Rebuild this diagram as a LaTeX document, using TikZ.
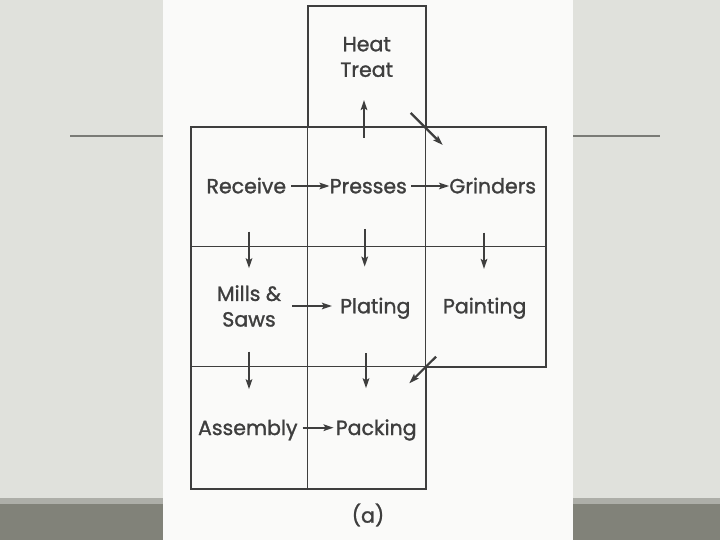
\documentclass[tikz,border=0pt]{standalone}
\usepackage{fontspec}
\setmainfont{Poppins}
\newfontfamily\lblfont[RawFeature={embolden=1.3}]{Poppins}
\usetikzlibrary{arrows.meta}
\definecolor{bgc}{HTML}{E0E1DC}
\definecolor{stripc}{HTML}{ADAEA8}
\definecolor{bandc}{HTML}{818279}
\definecolor{paperc}{HTML}{FAFAF9}
\definecolor{inkc}{HTML}{3E3E3E}
\definecolor{rulec}{HTML}{7A7B76}
\tikzset{
  lbl/.style={inner sep=0pt, text=inkc, font=\lblfont\fontsize{20.5}{25.6}\selectfont, align=center},
  outer/.style={draw=inkc, line width=2pt},
  inner/.style={draw=inkc, line width=1.5pt},
  flow/.style={draw=inkc, line width=2.2pt, -{Stealth[length=10pt,width=6.5pt,inset=2pt]}},
}
\begin{document}
\begin{tikzpicture}[x=1pt,y=-1pt]
\useasboundingbox (0,0) rectangle (720,540);
% slide background
\fill[bgc] (0,0) rectangle (720,540);
\fill[stripc] (0,498) rectangle (720,504);
\fill[bandc] (0,504) rectangle (720,540);
\draw[rulec, line width=1.2pt] (70,136) -- (660,136);
% scanned page
\fill[paperc] (163,0) rectangle (573,540);
% grid
\draw[inner] (190.7,246.7) -- (545.7,246.7);
\draw[inner] (190.7,366.7) -- (545.7,366.7);
\draw[inner] (307.5,6) -- (307.5,489);
\draw[inner] (425.7,126.7) -- (425.7,489);
\draw[outer] (307.5,126.7) -- (307.5,6) -- (425.7,6) -- (425.7,126.7);
\draw[outer] (190.7,126.7) -- (545.7,126.7) -- (545.7,366.7) -- (425.7,366.7) -- (425.7,489) -- (190.7,489) -- cycle;
% labels
\node[lbl] (heat) at (366.7,57) {Heat\\Treat};
\node[lbl, anchor=base] (rec) at (246.3,193.3) {Receive};
\node[lbl, anchor=base] (pre) at (368.3,193.3) {Presses};
\node[lbl, anchor=base] (gri) at (492.7,193.3) {Grinders};
\node[lbl] (mil) at (249,306) {Mills \&\\Saws};
\node[lbl, anchor=base] (pla) at (375.3,313.3) {Plating};
\node[lbl, anchor=base] (pai) at (484.7,313.3) {Painting};
\node[lbl, anchor=base] (ass) at (247.8,435) {Assembly};
\node[lbl, anchor=base] (pac) at (376.2,435) {Packing};
\node[lbl] (cap) at (368,515) {(a)};
% arrow end points
\coordinate (u1) at (364,138); \coordinate (u2) at (364,100);
\coordinate (d1) at (410.7,113); \coordinate (d2) at (442.7,145);
\coordinate (a1) at (249,231.7); \coordinate (a2) at (249,268.3);
\coordinate (b1) at (364.7,229); \coordinate (b2) at (364.7,266.7);
\coordinate (c1) at (484,232.7); \coordinate (c2) at (484,269);
\coordinate (e1) at (249,351.7); \coordinate (e2) at (249,389.3);
\coordinate (f1) at (366,353); \coordinate (f2) at (366,388.3);
\coordinate (g1) at (436,356.7); \coordinate (g2) at (409.3,383.3);
% arrows
\draw[flow] (u1) -- (u2);
\draw[flow] (d1) -- (d2);
\draw[flow] ([xshift=5pt]rec.east |- 0,186) -- (pre.west |- 0,186);
\draw[flow] ([xshift=4pt]pre.east |- 0,186) -- (gri.west |- 0,186);
\draw[flow] (292.3,306) -- ([xshift=-8pt]pla.west |- 0,306);
\draw[flow] ([xshift=5pt]ass.east |- 0,427.7) -- ([xshift=-2pt]pac.west |- 0,427.7);
\draw[flow] (a1) -- (a2);
\draw[flow] (b1) -- (b2);
\draw[flow] (c1) -- (c2);
\draw[flow] (e1) -- (e2);
\draw[flow] (f1) -- (f2);
\draw[flow] (g1) -- (g2);
\end{tikzpicture}
\end{document}
